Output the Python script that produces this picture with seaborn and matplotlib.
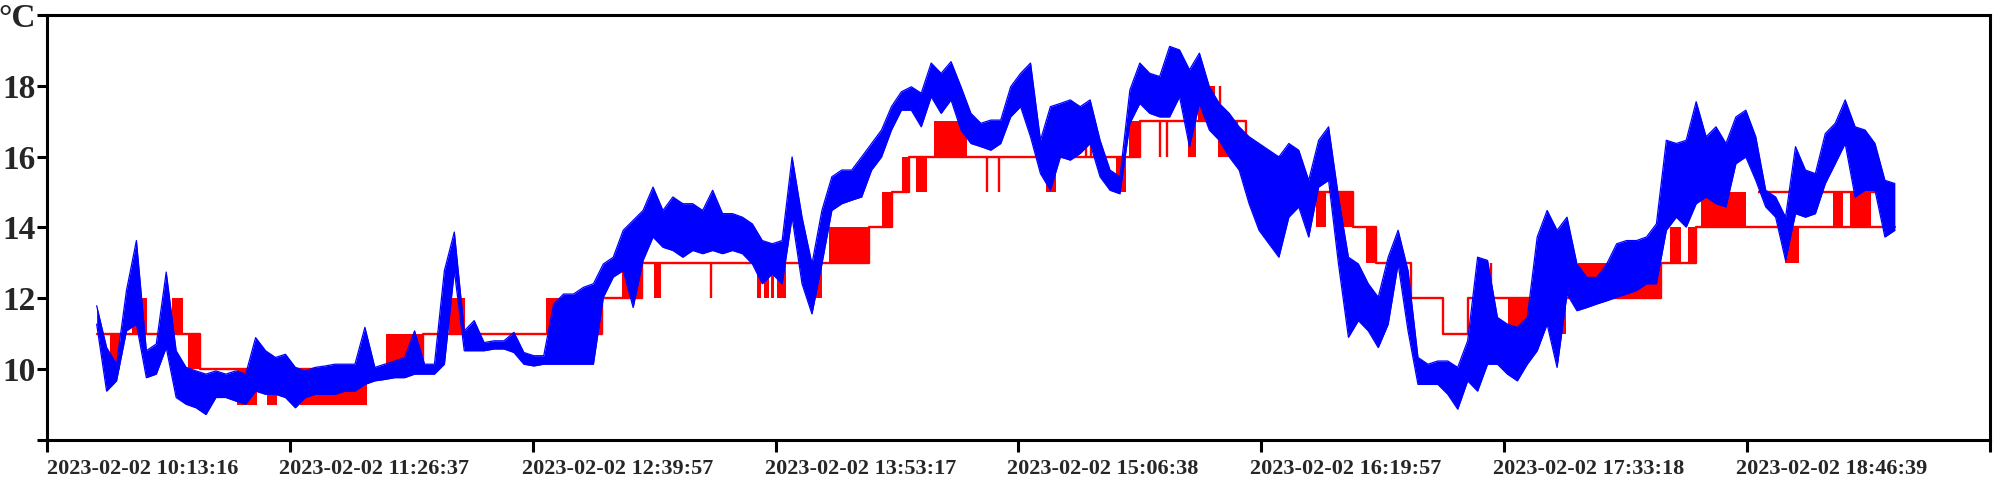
import numpy as np
import pandas as pd
import matplotlib
matplotlib.use("Agg")
import matplotlib.pyplot as plt
import matplotlib.transforms as mtransforms
import seaborn as sns

sns.set_style("ticks")
plt.rcParams["font.family"] = ["Liberation Serif", "DejaVu Serif"]
plt.rcParams["font.weight"] = "bold"

# %% Data ---------------------------------------------------------------
START = pd.Timestamp("2023-02-02 10:13:16")
END = pd.Timestamp("2023-02-02 20:00:00")

tick_labels = ["2023-02-02 10:13:16", "2023-02-02 11:26:37", "2023-02-02 12:39:57",
               "2023-02-02 13:53:17", "2023-02-02 15:06:38", "2023-02-02 16:19:57",
               "2023-02-02 17:33:18", "2023-02-02 18:46:39"]

# measured temperature (blue), logged every 3 min from 10:28:16; lower / upper envelope of the noisy trace
blue_minute = np.arange(15, 559, 3)
blue_hi = [11.79, 10.61, 10.14, 12.22, 13.63, 10.52, 10.71, 12.74, 10.52, 10.05,
           9.95, 9.86, 9.95, 9.86, 9.95, 9.86, 10.89, 10.52, 10.33, 10.42,
           10.05, 9.95, 10.05, 10.09, 10.14, 10.14, 10.14, 11.18, 10.05, 10.14,
           10.23, 10.33, 11.08, 10.14, 10.14, 12.78, 13.87, 11.08, 11.37, 10.75,
           10.80, 10.80, 11.04, 10.47, 10.38, 10.38, 11.84, 12.12, 12.12, 12.31,
           12.41, 12.97, 13.16, 13.92, 14.20, 14.48, 15.14, 14.48, 14.86, 14.67,
           14.67, 14.48, 15.05, 14.39, 14.39, 14.29, 14.10, 13.63, 13.54, 13.63,
           15.99, 14.29, 12.97, 14.48, 15.43, 15.62, 15.62, 15.99, 16.37, 16.75,
           17.41, 17.83, 17.97, 17.79, 18.64, 18.35, 18.68, 17.97, 17.22, 16.94,
           17.03, 17.03, 17.97, 18.35, 18.64, 16.46, 17.41, 17.50, 17.60, 17.41,
           17.60, 16.46, 15.62, 15.43, 17.88, 18.64, 18.35, 18.26, 19.11, 19.01,
           18.45, 18.92, 17.97, 17.50, 17.22, 16.84, 16.56, 16.37, 16.18, 15.99,
           16.37, 16.18, 15.33, 16.46, 16.84, 14.86, 13.16, 12.97, 12.41, 12.03,
           13.16, 13.92, 12.78, 10.33, 10.14, 10.23, 10.23, 10.05, 10.80, 13.16,
           13.07, 11.46, 11.27, 11.18, 11.46, 13.73, 14.48, 13.92, 14.29, 12.97,
           12.59, 12.59, 12.97, 13.54, 13.63, 13.63, 13.73, 14.10, 16.46, 16.37,
           16.46, 17.55, 16.56, 16.84, 16.37, 17.12, 17.31, 16.56, 15.05, 14.86,
           14.29, 16.28, 15.62, 15.52, 16.65, 16.94, 17.60, 16.84, 16.75, 16.37,
           15.33, 15.24]
blue_lo = [11.27, 9.38, 9.67, 11.08, 11.27, 9.76, 9.86, 10.61, 9.20, 9.01,
           8.91, 8.72, 9.20, 9.20, 9.10, 9.01, 9.38, 9.29, 9.29, 9.20,
           8.91, 9.20, 9.29, 9.29, 9.29, 9.38, 9.38, 9.57, 9.67, 9.71,
           9.76, 9.76, 9.86, 9.86, 9.86, 10.14, 12.78, 10.52, 10.52, 10.52,
           10.57, 10.57, 10.47, 10.14, 10.09, 10.14, 10.14, 10.14, 10.14, 10.14,
           10.14, 12.03, 12.60, 12.78, 11.74, 13.07, 13.73, 13.44, 13.35, 13.16,
           13.35, 13.26, 13.35, 13.26, 13.35, 13.26, 12.97, 12.41, 12.69, 12.41,
           14.29, 12.41, 11.56, 12.97, 14.48, 14.67, 14.77, 14.86, 15.62, 15.99,
           16.75, 17.31, 17.31, 16.84, 17.69, 17.22, 17.60, 16.75, 16.37, 16.28,
           16.18, 16.37, 17.12, 17.41, 16.56, 15.52, 15.05, 15.99, 15.90, 16.09,
           16.37, 15.43, 15.05, 14.95, 16.94, 17.50, 17.22, 17.12, 17.12, 17.69,
           16.28, 17.50, 16.75, 16.46, 15.99, 15.62, 14.67, 13.92, 13.54, 13.16,
           14.29, 14.58, 13.73, 15.14, 15.33, 12.97, 10.90, 11.37, 11.08, 10.61,
           11.27, 12.97, 11.08, 9.57, 9.57, 9.57, 9.29, 8.87, 9.67, 9.38,
           10.14, 10.14, 9.86, 9.67, 10.14, 10.52, 11.27, 10.05, 12.12, 11.65,
           11.74, 11.84, 11.93, 12.03, 12.12, 12.22, 12.41, 12.41, 13.92, 14.29,
           14.01, 14.67, 14.86, 14.67, 14.58, 15.80, 15.99, 15.33, 14.58, 14.29,
           13.07, 14.39, 14.29, 14.39, 15.24, 15.80, 16.37, 14.86, 15.05, 15.05,
           13.73, 13.92]

# integer sensor reading (red): level changes, minutes after 10:13:16
red_step_min = [15.1, 46.1, 113.4, 167.7, 179.7, 248.2, 255.1, 260.3, 330.2, 362.2,
                374.2, 394.4, 401.4, 411.9, 421.6, 429.1, 487.3, 497.9, 557.9]
red_step_val = [11, 10, 11, 12, 13, 14, 15, 16, 17, 16,
                15, 14, 13, 12, 11, 12, 13, 14, 14]

# stretches where the reading flickers between two neighbouring levels
flick_t0 = [19.0, 25.6, 37.7, 42.5, 57.3, 66.3, 76.3, 102.5, 121.5, 150.8,
            173.7, 183.4, 214.4, 216.5, 218.6, 220.4, 231.6, 236.1, 252.1, 258.1,
            262.4, 267.8, 301.6, 322.7, 326.6, 344.7, 347.7, 353.7, 368.8, 383.3,
            389.9, 398.4, 441.2, 456.3, 462.3, 490.0, 495.5, 499.4, 524.7, 539.2,
            544.6, 555.8]
flick_t1 = [22.0, 30.2, 41.0, 46.1, 63.3, 69.4, 96.5, 113.4, 126.1, 167.7,
            179.7, 185.5, 215.6, 218.0, 219.5, 223.2, 234.0, 248.2, 255.1, 260.3,
            265.7, 277.7, 304.6, 325.7, 330.2, 347.1, 352.8, 359.8, 374.2, 386.3,
            394.4, 401.4, 450.2, 458.7, 487.3, 493.4, 497.9, 513.0, 529.2, 542.2,
            550.7, 557.9]
flick_lo = [10, 11, 11, 10, 9, 9, 9, 10, 11, 11,
            12, 12, 12, 12, 12, 12, 12, 13, 14, 15,
            15, 16, 15, 15, 16, 16, 17, 16, 15, 14,
            14, 13, 11, 11, 12, 13, 13, 14, 13, 14,
            14, 14]
flick_hi = [11, 12, 12, 11, 10, 10, 10, 11, 12, 12,
            13, 13, 13, 13, 13, 13, 13, 14, 15, 16,
            16, 17, 16, 16, 17, 17, 18, 17, 16, 15,
            15, 14, 12, 12, 13, 14, 14, 15, 14, 15,
            15, 15]

# single-sample jumps
jump_min = [200.5, 283.8, 287.4, 310.6, 313.6, 315.4, 336.2, 338.1, 354.3, 436.1]
jump_lo = [12, 15, 15, 16, 16, 16, 16, 16, 16, 12]
jump_hi = [13, 16, 16, 17, 17, 17, 17, 17, 18, 13]

# second trace level at the end of the record
alt_t0, alt_t1, alt_val = 516.6, 557.9, 15

# %% Plot ---------------------------------------------------------------
blue = pd.DataFrame({"minute": blue_minute, "lo": blue_lo, "hi": blue_hi})
red = pd.DataFrame({"minute": red_step_min, "temp": red_step_val})
span = (END - START).total_seconds() / 60
tick_pos = [(pd.Timestamp(s) - START).total_seconds() / 60 for s in tick_labels]

fig = plt.figure(figsize=(20, 4.8), dpi=100)
ax = fig.add_axes([0.0235, 0.0833, 0.9715, 0.8857])

RED, BLUE = "#ff0000", "#0000ff"

# red: integer reading
sns.lineplot(data=red, x="minute", y="temp", color=RED, lw=1.7, drawstyle="steps-post",
             estimator=None, sort=False, ax=ax, zorder=2)
ax.bar(flick_t0, np.subtract(flick_hi, flick_lo), bottom=flick_lo,
       width=np.subtract(flick_t1, flick_t0), align="edge", color=RED, lw=0, zorder=2)
ax.vlines(jump_min, jump_lo, jump_hi, color=RED, lw=1.7, zorder=2)
ax.hlines(alt_val, alt_t0, alt_t1, color=RED, lw=1.7, zorder=2)

# blue: measured trace
ax.fill_between(blue["minute"], blue["lo"], blue["hi"], color=BLUE, lw=0, zorder=3)
sns.lineplot(data=blue, x="minute", y="hi", color=BLUE, lw=0.9, estimator=None, ax=ax, zorder=3)
sns.lineplot(data=blue, x="minute", y="lo", color=BLUE, lw=0.9, estimator=None, ax=ax, zorder=3)

ax.set_xlim(0, span)
ax.set_ylim(8, 20)
ax.set_xticks(tick_pos + [span])
ax.set_xticklabels(tick_labels + [""])
ax.set_yticks([8, 10, 12, 14, 16, 18, 20])
ax.set_yticklabels(["", "10", "12", "14", "16", "18", "°C"])
ax.set_xlabel("")
ax.set_ylabel("")

for s in ax.spines.values():
    s.set_visible(True)
    s.set_linewidth(2.2)
    s.set_color("black")
ax.tick_params(axis="x", length=8.5, width=2.2, labelsize=16, pad=5, color="black")
ax.tick_params(axis="y", length=7.2, width=2.2, labelsize=24, pad=1, color="black")

# date labels start at (or just before) their tick
shift = mtransforms.ScaledTranslation(-11 / 100, 0, fig.dpi_scale_trans)
for i, lab in enumerate(ax.get_xticklabels()):
    lab.set_horizontalalignment("left")
    if i > 0:
        lab.set_transform(lab.get_transform() + shift)
for lab in ax.get_xticklabels() + ax.get_yticklabels():
    lab.set_fontweight("bold")

fig.savefig("out.png", dpi=100)
